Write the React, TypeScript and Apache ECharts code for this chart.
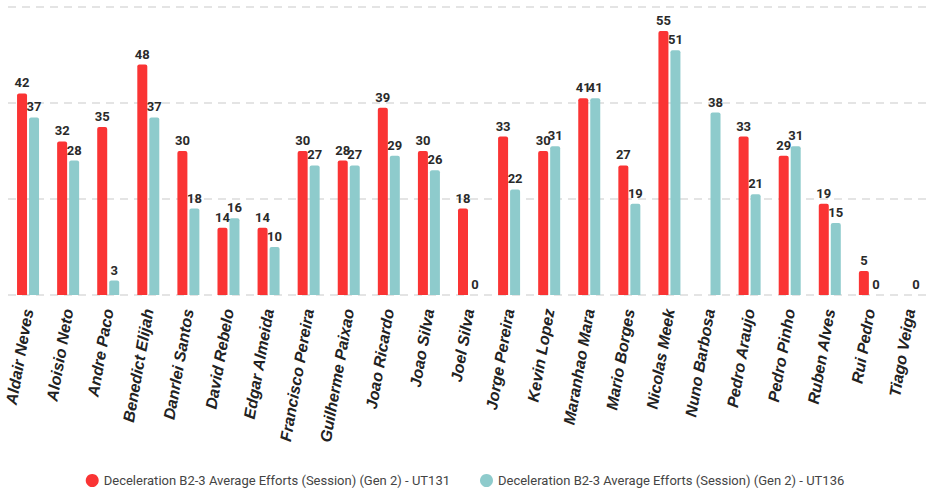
import React, { useEffect, useRef } from "react";
import * as echarts from "echarts";

const categories = [
  "Aldair Neves", "Aloisio Neto", "Andre Paco", "Benedict Elijah", "Danrlei Santos",
  "David Rebelo", "Edgar Almeida", "Francisco Pereira", "Guilherme Paixao", "Joao Ricardo",
  "Joao Silva", "Joel Silva", "Jorge Pereira", "Kevin Lopez", "Maranhao Mara",
  "Mario Borges", "Nicolas Meek", "Nuno Barbosa", "Pedro Araujo", "Pedro Pinho",
  "Ruben Alves", "Rui Pedro", "Tiago Veiga",
];
const ut131 = [42, 32, 35, 48, 30, 14, 14, 30, 28, 39, 30, 18, 33, 30, 41, 27, 55, null, 33, 29, 19, 5, null];
const ut136 = [37, 28, 3, 37, 18, 16, 10, 27, 27, 29, 26, 0, 22, 31, 41, 19, 51, 38, 21, 31, 15, 0, 0];
const seriesNames = [
  "Deceleration B2-3 Average Efforts (Session) (Gen 2) - UT131",
  "Deceleration B2-3 Average Efforts (Session) (Gen 2) - UT136",
];

export default function App() {
  const ref = useRef<HTMLDivElement>(null);
  useEffect(() => {
    const chart = echarts.init(ref.current!, null, { renderer: "svg" });
    const labelStyle = {
      show: true,
      position: "top" as const,
      distance: 4,
      fontFamily: "Roboto",
      fontWeight: "bold" as const,
      fontSize: 13,
      color: "#2a2a2a",
    };
    chart.setOption({
      animation: false,
      backgroundColor: "#fff",
      grid: { left: 8, right: 0, top: 7, bottom: 202, containLabel: false },
      legend: {
        bottom: 5,
        left: "center",
        icon: "circle",
        itemWidth: 13,
        itemHeight: 13,
        itemGap: 30,
        textStyle: {
          fontFamily: "Roboto",
          fontSize: 13,
          color: "#444",
        },
        data: seriesNames,
      },
      xAxis: {
        type: "category",
        data: categories,
        axisLine: { show: false },
        axisTick: { show: false },
        axisLabel: {
          interval: 0,
          rotate: 80,
          margin: 14,
          fontFamily: "Liberation Sans",
          fontStyle: "italic",
          fontWeight: "bold",
          fontSize: 16,
          color: "#222",
        },
      },
      yAxis: {
        type: "value",
        min: 0,
        max: 60,
        interval: 20,
        axisLabel: { show: false },
        axisLine: { show: false },
        axisTick: { show: false },
        splitLine: { lineStyle: { type: [8, 6], color: "#dcdcdc", width: 1.5 } },
      },
      series: [
        {
          name: seriesNames[0],
          type: "bar",
          data: ut131,
          barWidth: 10,
          barGap: "20%",
          itemStyle: { color: "#fa3434", borderRadius: [2, 2, 0, 0] },
          label: labelStyle,
        },
        {
          name: seriesNames[1],
          type: "bar",
          data: ut136,
          barWidth: 10,
          itemStyle: { color: "#8ecbcc", borderRadius: [2, 2, 0, 0] },
          label: labelStyle,
        },
      ],
    });
    return () => chart.dispose();
  }, []);
  return (
    <div
      ref={ref}
      style={{ position: "fixed", left: 0, top: 0, width: 930, height: 497 }}
    />
  );
}
